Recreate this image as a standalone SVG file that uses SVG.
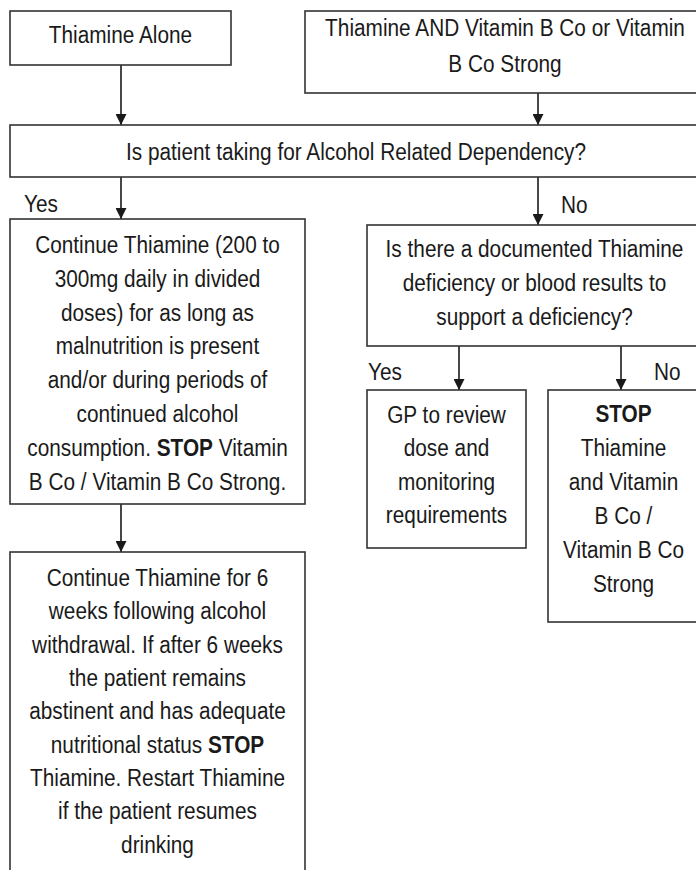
<svg xmlns="http://www.w3.org/2000/svg" width="696" height="870" viewBox="0 0 696 870">
<style>
.box{fill:#fff;stroke:#333;stroke-width:1.6}
.t{font-family:"Liberation Sans",Arial,sans-serif;font-size:20.8px;fill:#1a1a1a;text-anchor:middle}
.l{font-family:"Liberation Sans",Arial,sans-serif;font-size:20.8px;fill:#1a1a1a}
.b{font-weight:bold}
.c{stroke:#1a1a1a;stroke-width:1.6;fill:none;marker-end:url(#ah)}
</style>
<defs>
<marker id="ah" markerUnits="userSpaceOnUse" markerWidth="11" markerHeight="11" refX="11" refY="5.5" orient="auto">
<path d="M0,0 L11,5.5 L0,11 z" fill="#1a1a1a"/>
</marker>
</defs>
<rect width="696" height="870" fill="#fff"/>
<g id="connectors">
<line class="c" x1="121" y1="65" x2="121" y2="125"/>
<line class="c" x1="538" y1="93" x2="538" y2="125"/>
<line class="c" x1="121" y1="177" x2="121" y2="219"/>
<line class="c" x1="538" y1="177" x2="538" y2="225"/>
<line class="c" x1="121" y1="504" x2="121" y2="552"/>
<line class="c" x1="459" y1="346" x2="459" y2="390"/>
<line class="c" x1="621" y1="346" x2="621" y2="390"/>
<text class="l" transform="translate(24,212) scale(1,1.15)">Yes</text>
<text class="l" transform="translate(561,213) scale(1,1.15)">No</text>
<text class="l" transform="translate(368,380) scale(1,1.15)">Yes</text>
<text class="l" transform="translate(654,380) scale(1,1.15)">No</text>
</g>
<g id="n1">
<rect class="box" x="10" y="11" width="221" height="54"/>
<text class="t" transform="translate(120.5,43) scale(1,1.15)">Thiamine Alone</text>
</g>
<g id="n2">
<rect class="box" x="305" y="11" width="400" height="82"/>
<text class="t" transform="translate(505,36) scale(1,1.15)"><tspan x="0" y="0">Thiamine AND Vitamin B Co or Vitamin</tspan><tspan x="0" dy="30.9">B Co Strong</tspan></text>
</g>
<g id="n3">
<rect class="box" x="10" y="125" width="692" height="52"/>
<text class="t" transform="translate(356,160) scale(1,1.15)">Is patient taking for Alcohol Related Dependency?</text>
</g>
<g id="n4">
<rect class="box" x="10" y="219" width="295" height="285"/>
<text class="t" transform="translate(157.5,253) scale(1,1.15)"><tspan x="0" y="0">Continue Thiamine (200 to</tspan><tspan x="0" dy="29.4">300mg daily in divided</tspan><tspan x="0" dy="29.4">doses) for as long as</tspan><tspan x="0" dy="29.4">malnutrition is present</tspan><tspan x="0" dy="29.4">and/or during periods of</tspan><tspan x="0" dy="29.4">continued alcohol</tspan><tspan x="0" dy="29.4">consumption. <tspan class="b">STOP</tspan> Vitamin</tspan><tspan x="0" dy="29.4">B Co / Vitamin B Co Strong.</tspan></text>
</g>
<g id="n5">
<rect class="box" x="10" y="552" width="295" height="330"/>
<text class="t" transform="translate(157.5,586) scale(1,1.15)"><tspan x="0" y="0">Continue Thiamine for 6</tspan><tspan x="0" dy="29.0">weeks following alcohol</tspan><tspan x="0" dy="29.0">withdrawal. If after 6 weeks</tspan><tspan x="0" dy="29.0">the patient remains</tspan><tspan x="0" dy="29.0">abstinent and has adequate</tspan><tspan x="0" dy="29.0">nutritional status <tspan class="b">STOP</tspan></tspan><tspan x="0" dy="29.0">Thiamine. Restart Thiamine</tspan><tspan x="0" dy="29.0">if the patient resumes</tspan><tspan x="0" dy="29.0">drinking</tspan></text>
</g>
<g id="n6">
<rect class="box" x="367" y="225" width="335" height="121"/>
<text class="t" transform="translate(534.5,257) scale(1,1.15)"><tspan x="0" y="0">Is there a documented Thiamine</tspan><tspan x="0" dy="29.6">deficiency or blood results to</tspan><tspan x="0" dy="29.6">support a deficiency?</tspan></text>
</g>
<g id="n7">
<rect class="box" x="367" y="390" width="159" height="158"/>
<text class="t" transform="translate(446.5,423) scale(1,1.15)"><tspan x="0" y="0">GP to review</tspan><tspan x="0" dy="29.0">dose and</tspan><tspan x="0" dy="29.0">monitoring</tspan><tspan x="0" dy="29.0">requirements</tspan></text>
</g>
<g id="n8">
<rect class="box" x="548" y="390" width="152" height="232"/>
<text class="t" transform="translate(623.5,422) scale(1,1.15)"><tspan x="0" y="0" class="b">STOP</tspan><tspan x="0" dy="29.6">Thiamine</tspan><tspan x="0" dy="29.6">and Vitamin</tspan><tspan x="0" dy="29.6">B Co /</tspan><tspan x="0" dy="29.6">Vitamin B Co</tspan><tspan x="0" dy="29.6">Strong</tspan></text>
</g>
</svg>
